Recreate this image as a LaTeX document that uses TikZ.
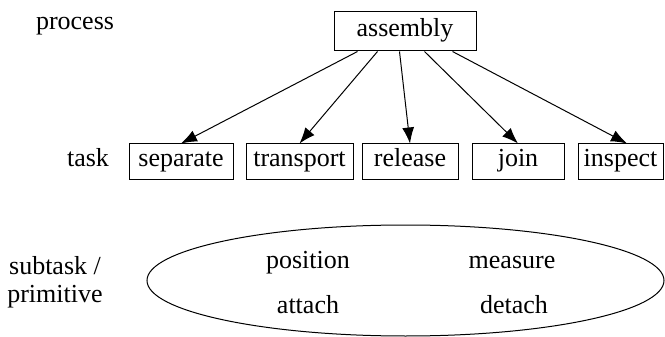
\documentclass[tikz,border=0pt]{standalone}
\usepackage{fontspec}
\setmainfont{Liberation Serif}
\usetikzlibrary{arrows.meta,shapes.geometric,calc}
\begin{document}
\begin{tikzpicture}[x=1pt,y=-1pt,
  every node/.style={font=\rmfamily\fontsize{26}{28}\selectfont, inner sep=0pt},
  box/.style={draw, line width=1pt, text height=18pt, text depth=7pt, minimum height=35pt},
  label/.style={anchor=base},
  link/.style={line width=1pt, -{Latex[length=16pt,width=12pt]}}]
  \useasboundingbox (0,0) rectangle (665,337);

  % level labels
  \node[label] (lproc) at (75,30) {process};
  \node[label] (ltask) at (88,167) {task};
  \node[label, align=center] (lsub) at (55,302) {subtask /\\[0pt]primitive};

  % process
  \node[box, minimum width=142pt, minimum height=39pt] (asm) at (405,31.5) {assembly};

  % tasks
  \node[box, minimum width=104pt] (sep) at (181,161.5) {separate};
  \node[box, minimum width=107pt] (tra) at (299.5,161.5) {transport};
  \node[box, minimum width=96pt]  (rel) at (410,161.5) {release};
  \node[box, minimum width=92pt]  (joi) at (518,161.5) {join};
  \node[box, minimum width=85pt]  (ins) at (620.5,161.5) {inspect};

  % connectors leave the bottom edge of the process box
  \coordinate (o1) at ($(asm.south west)+(24,0)$);
  \coordinate (o2) at ($(asm.south west)+(44,0)$);
  \coordinate (o3) at ($(asm.south west)+(66,0)$);
  \coordinate (o4) at ($(asm.south west)+(91,0)$);
  \coordinate (o5) at ($(asm.south west)+(119,0)$);
  \draw[link] (o1) -- (sep.north);
  \draw[link] (o2) -- (tra.north);
  \draw[link] (o3) -- (rel.north);
  \draw[link] (o4) -- (joi.north);
  \draw[link] (o5) -- ($(ins.north)+(6.5,0)$);

  % subtasks / primitives
  \node[draw, ellipse, line width=1pt, minimum width=517pt, minimum height=111pt] (prim) at (405.5,280.5) {};
  \node[label] (pos) at (308,268) {position};
  \node[label] (mea) at (512,268) {measure};
  \node[label] (att) at (308,313) {attach};
  \node[label] (det) at (514,313) {detach};
\end{tikzpicture}
\end{document}
